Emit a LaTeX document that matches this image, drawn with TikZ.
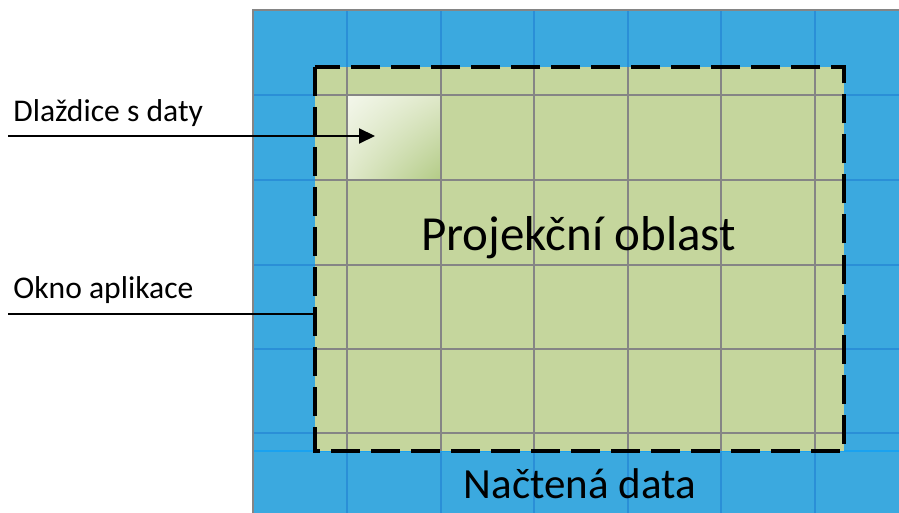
\documentclass[tikz,border=0pt]{standalone}
\usepackage{fontspec}
\setmainfont{Carlito}
\usetikzlibrary{arrows.meta,shadings}
\definecolor{mapblue}{HTML}{3BA9DF}
\definecolor{mapline}{HTML}{2A8FD7}
\definecolor{mapedge}{HTML}{1AA2F0}
\definecolor{viewgreen}{HTML}{C5D69D}
\definecolor{tilegreen}{HTML}{B3CB86}
\definecolor{gridgray}{HTML}{858585}
\tikzset{
    gridline/.style={gridgray, line width=1pt},
    blueline/.style={mapline, line width=1pt},
    window/.style={line width=2pt, dash pattern=on 14.5pt off 5.5pt},
    pointer/.style={line width=1pt, -{Triangle[length=8pt,width=7.5pt]}},
    label/.style={anchor=base west, inner sep=0pt, font=\fontsize{15.8pt}{18pt}\selectfont},
}
\begin{document}
\begin{tikzpicture}[x=0.5pt, y=-0.5pt]
        \useasboundingbox (0,0) rectangle (899,513);
        % loaded data
        \fill[mapblue] (252.5,10.5) rectangle (899,513);
        \foreach \x in {347,440.5,534,628,721,815}
            \draw[blueline] (\x,10.5) -- (\x,513);
        \foreach \y in {95,180,265,349,433}
            \draw[blueline] (252.5,\y) -- (899,\y);
        \draw[mapedge, line width=1pt] (252.5,451) -- (899,451);
        \draw[gridgray, line width=1pt] (252.5,513) |- (899,10.5);
        % projection area
        \fill[viewgreen] (315,67) rectangle (843.5,451);
        \shade[upper left=white!80!viewgreen, lower right=tilegreen,
               upper right=viewgreen!55!white, lower left=viewgreen!55!white]
            (347,95) rectangle (440.5,180);
        \node[inner sep=0pt, minimum width=46.75pt, minimum height=42.5pt] (tile) at (393.75,137.5) {};
        \foreach \x in {347,440.5,534,628,721,815}
            \draw[gridline] (\x,67) -- (\x,451);
        \foreach \y in {95,180,265,349,433}
            \draw[gridline] (315,\y) -- (843.5,\y);
        \draw[window] (315,67) rectangle (843.5,451);
        \coordinate (winedge) at (313,314);
        \node[anchor=base, inner sep=0pt, font=\fontsize{24.5pt}{28pt}\selectfont] (area) at (578.5,250.5) {Projekční oblast};
        \node[anchor=base, inner sep=0pt, font=\fontsize{21.5pt}{25pt}\selectfont] (loaded) at (580,498) {Načtená data};
        % labels on the left
        \node[label] (tilelbl) at (13,122) {Dlaždice s daty};
        \node[label] (winlbl) at (13,299) {Okno aplikace};
        \coordinate (tilefrom) at (8,136);
        \coordinate (tiletip) at (375,136);
        \coordinate (winfrom) at (8,314);
        \draw[pointer] (tilefrom) -- (tiletip);
        \draw[line width=1pt] (winfrom) -- (winedge);
    \end{tikzpicture}
\end{document}
